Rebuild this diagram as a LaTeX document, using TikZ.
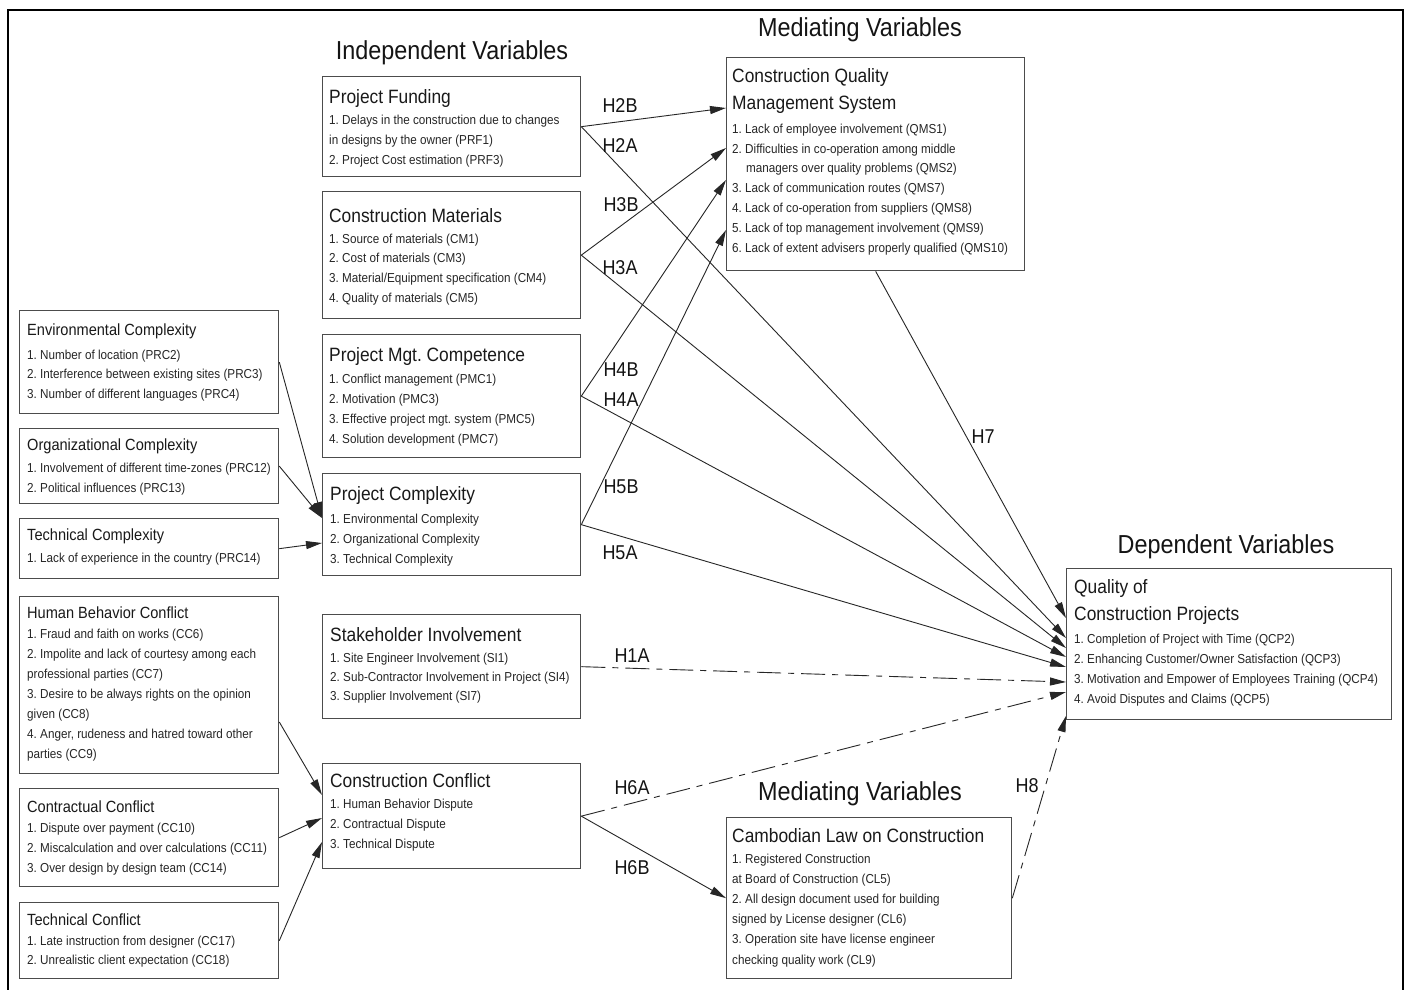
\documentclass[tikz,border=0pt]{standalone}
\usepackage{fontspec}
\setmainfont{Liberation Sans}[FakeStretch=0.9]
\usetikzlibrary{arrows.meta,calc}
\definecolor{bd}{gray}{0.3}
\frenchspacing
\newcommand\putlines[6]{\foreach \lline [count=\i] in {#6} {\node[#5] (#1-\i) at (#2,{#3+#4*(\i-1)}) {\lline};}}
\begin{document}
\begin{tikzpicture}[x=1pt,y=-1pt,
  box/.style={draw=bd, line width=1.3pt, inner sep=0pt, anchor=north west},
  hd/.style={font=\fontsize{19.3}{22}\selectfont\frenchspacing, text=black!90, inner sep=0pt, anchor=base west},
  hds/.style={font=\fontsize{16.2}{19}\selectfont\frenchspacing, text=black!90, inner sep=0pt, anchor=base west},
  it/.style={font=\fontsize{13}{16}\selectfont\frenchspacing, text=black!85, inner sep=0pt, anchor=base west},
  ttl/.style={font=\fontsize{26}{30}\selectfont, text=black!92, inner sep=0pt, anchor=base},
  lbl/.style={font=\fontsize{20}{24}\selectfont, text=black!92, inner sep=0pt},
  conn/.style={draw=black!85, line width=0.9pt},
  arr/.style={conn, -{Triangle[length=16pt,width=8pt]}},
  dsh/.style={dash pattern=on 24pt off 7pt on 6pt off 7pt}
]
\useasboundingbox (0,0) rectangle (1405,989);
\fill[white] (0,0) rectangle (1405,989);
% outer frame
\draw[line width=2pt] (8,1000) -- (8,10) -- (1403,10) -- (1403,1000);

% titles
\node[ttl] (tIV) at (452,59) {Independent Variables};
\node[ttl] (tMV1) at (860,36) {Mediating Variables};
\node[ttl] (tMV2) at (860,800) {Mediating Variables};
\node[ttl] (tDV) at (1226,553) {Dependent Variables};

% boxes
\node[box, minimum width=258pt, minimum height=100pt] (prf) at (322,76) {};
\node[box, minimum width=258pt, minimum height=127pt] (cm) at (322,191) {};
\node[box, minimum width=258pt, minimum height=123pt] (pmc) at (322,334) {};
\node[box, minimum width=258pt, minimum height=102pt] (pc) at (322,473) {};
\node[box, minimum width=258pt, minimum height=104pt] (si) at (322,614) {};
\node[box, minimum width=258pt, minimum height=105pt] (cc) at (322,763) {};
\node[box, minimum width=298pt, minimum height=213pt] (qms) at (726,57) {};
\node[box, minimum width=285pt, minimum height=161pt] (cl) at (726,817) {};
\node[box, minimum width=325pt, minimum height=151pt] (qcp) at (1066,568) {};
\node[box, minimum width=259pt, minimum height=103pt] (env) at (19,310) {};
\node[box, minimum width=259pt, minimum height=75pt] (org) at (19,428) {};
\node[box, minimum width=259pt, minimum height=60pt] (tcx) at (19,518) {};
\node[box, minimum width=259pt, minimum height=177pt] (hb) at (19,596) {};
\node[box, minimum width=259pt, minimum height=98pt] (ctr) at (19,788) {};
\node[box, minimum width=259pt, minimum height=76pt] (tcf) at (19,902) {};

% texts
\node[hd] (prf-h) at (329,103) {Project Funding};
\putlines{prf}{329}{124}{20}{it}{1. Delays in the construction due to changes, in designs by the owner (PRF1), 2. Project Cost estimation (PRF3)}
\node[hd] (cm-h) at (329,222) {Construction Materials};
\putlines{cm}{329}{243}{19.7}{it}{1. Source of materials (CM1), 2. Cost of materials (CM3), {3. Material/Equipment specification (CM4)}, 4. Quality of materials (CM5)}
\node[hd] (pmc-h) at (329,361) {Project Mgt. Competence};
\putlines{pmc}{329}{383}{20.3}{it}{1. Conflict management (PMC1), 2. Motivation (PMC3), 3. Effective project mgt. system (PMC5), 4. Solution development (PMC7)}
\node[hd] (pc-h) at (330,500) {Project Complexity};
\putlines{pc}{330}{523}{20}{it}{1. Environmental Complexity, 2. Organizational Complexity, 3. Technical Complexity}
\node[hd] (si-h) at (330,641) {Stakeholder Involvement};
\putlines{si}{330}{662}{19}{it}{1. Site Engineer Involvement (SI1), 2. Sub-Contractor Involvement in Project (SI4), 3. Supplier Involvement (SI7)}
\node[hd] (cc-h) at (330,787) {Construction Conflict};
\putlines{cc}{330}{808}{20}{it}{1. Human Behavior Dispute, 2. Contractual Dispute, 3. Technical Dispute}

\node[hd] (qms-h1) at (732,82) {Construction Quality};
\node[hd] (qms-h2) at (732,109) {Management System};
\putlines{qmsa}{732}{133}{20}{it}{1. Lack of employee involvement (QMS1), 2. Difficulties in co-operation among middle}
\node[it] (qms-m) at (746,172) {managers over quality problems (QMS2)};
\putlines{qmsb}{732}{192}{20}{it}{3. Lack of communication routes (QMS7), 4. Lack of co-operation from suppliers (QMS8), 5. Lack of top management involvement (QMS9), 6. Lack of extent advisers properly qualified (QMS10)}

\node[hd] (cl-h) at (732,842) {Cambodian Law on Construction};
\putlines{cl}{732}{863}{20.2}{it}{1. Registered Construction, at Board of Construction (CL5), 2. All design document used for building, signed by License designer (CL6), 3. Operation site have license engineer, checking quality work (CL9)}

\node[hd] (qcp-h1) at (1074,593) {Quality of};
\node[hd] (qcp-h2) at (1074,620) {Construction Projects};
\putlines{qcp}{1074}{643}{20.3}{it}{1. Completion of Project with Time (QCP2), {2. Enhancing Customer/Owner Satisfaction (QCP3)}, 3. Motivation and Empower of Employees Training (QCP4), 4. Avoid Disputes and Claims (QCP5)}

\node[hds] (env-h) at (27,335) {Environmental Complexity};
\putlines{env}{27}{359}{19.5}{it}{1. Number of location (PRC2), 2. Interference between existing sites (PRC3), 3. Number of different languages (PRC4)}
\node[hds] (org-h) at (27,450) {Organizational Complexity};
\putlines{org}{27}{472}{20}{it}{1. Involvement of different time-zones (PRC12), 2. Political influences (PRC13)}
\node[hds] (tcx-h) at (27,540) {Technical Complexity};
\putlines{tcx}{27}{562}{20}{it}{1. Lack of experience in the country (PRC14)}
\node[hds] (hb-h) at (27,618) {Human Behavior Conflict};
\putlines{hb}{27}{638}{20}{it}{1. Fraud and faith on works (CC6), 2. Impolite and lack of courtesy among each, professional parties (CC7), 3. Desire to be always rights on the opinion, given (CC8), {4. Anger, rudeness and hatred toward other}, parties (CC9)}
\node[hds] (ctr-h) at (27,812) {Contractual Conflict};
\putlines{ctr}{27}{832}{20}{it}{1. Dispute over payment (CC10), 2. Miscalculation and over calculations (CC11), 3. Over design by design team (CC14)}
\node[hds] (tcf-h) at (27,925) {Technical Conflict};
\putlines{tcf}{27}{945}{19.5}{it}{1. Late instruction from designer (CC17), 2. Unrealistic client expectation (CC18)}

% ports
\coordinate (q1) at ($(qms.north west)+(0,51)$);
\coordinate (q2) at ($(qms.north west)+(0,91)$);
\coordinate (q3) at ($(qms.north west)+(0,123)$);
\coordinate (q4) at ($(qms.north west)+(0,173)$);
\coordinate (d7) at ($(qcp.north west)+(0,50)$);
\coordinate (d2) at ($(qcp.north west)+(0,70)$);
\coordinate (d3) at ($(qcp.north west)+(0,80)$);
\coordinate (d4) at ($(qcp.north west)+(0,89)$);
\coordinate (d5) at ($(qcp.north west)+(0,99)$);
\coordinate (d1) at ($(qcp.north west)+(0,114)$);
\coordinate (d6) at ($(qcp.north west)+(0,124)$);
\coordinate (d8) at ($(qcp.north west)+(0,148)$);
\coordinate (p1) at ($(pc.north west)+(0,45)$);
\coordinate (p2) at ($(pc.north west)+(0,70)$);
\coordinate (c1) at ($(cc.north west)+(0,32)$);
\coordinate (c2) at ($(cc.north west)+(0,55)$);
\coordinate (c3) at ($(cc.north west)+(0,79)$);
\coordinate (hbo) at ($(hb.north east)+(0,126)$);

% connectors
\draw[arr] (prf.east) -- (q1);
\draw[arr] (prf.east) -- (d2);
\draw[arr] (cm.east) -- (q2);
\draw[arr] (cm.east) -- (d3);
\draw[arr] (pmc.east) -- (q3);
\draw[arr] (pmc.east) -- (d4);
\draw[arr] (pc.east) -- (q4);
\draw[arr] (pc.east) -- (d5);
\draw[arr,dsh] (si.east) -- (d1);
\draw[arr,dsh] (cc.east) -- (d6);
\draw[arr] (cc.east) -- (cl.west);
\draw[arr] (qms.south) -- (d7);
\draw[arr,dsh] (cl.east) -- (d8);
\draw[arr] (env.east) -- (p1);
\draw[arr] (org.east) -- (p1);
\draw[arr] (tcx.east) -- (p2);
\draw[arr] (hbo) -- (c1);
\draw[arr] (ctr.east) -- (c2);
\draw[arr] (tcf.east) -- (c3);

% labels
\node[lbl] (lH2B) at (620,106) {H2B};
\node[lbl] (lH2A) at (620,146) {H2A};
\node[lbl] (lH3B) at (621,205) {H3B};
\node[lbl] (lH3A) at (620,268) {H3A};
\node[lbl] (lH4B) at (621,370) {H4B};
\node[lbl] (lH4A) at (621,400) {H4A};
\node[lbl] (lH5B) at (621,487) {H5B};
\node[lbl] (lH5A) at (620,553) {H5A};
\node[lbl] (lH1A) at (632,656) {H1A};
\node[lbl] (lH6A) at (632,788) {H6A};
\node[lbl] (lH6B) at (632,868) {H6B};
\node[lbl] (lH7) at (983,437) {H7};
\node[lbl] (lH8) at (1027,786) {H8};
\end{tikzpicture}
\end{document}
